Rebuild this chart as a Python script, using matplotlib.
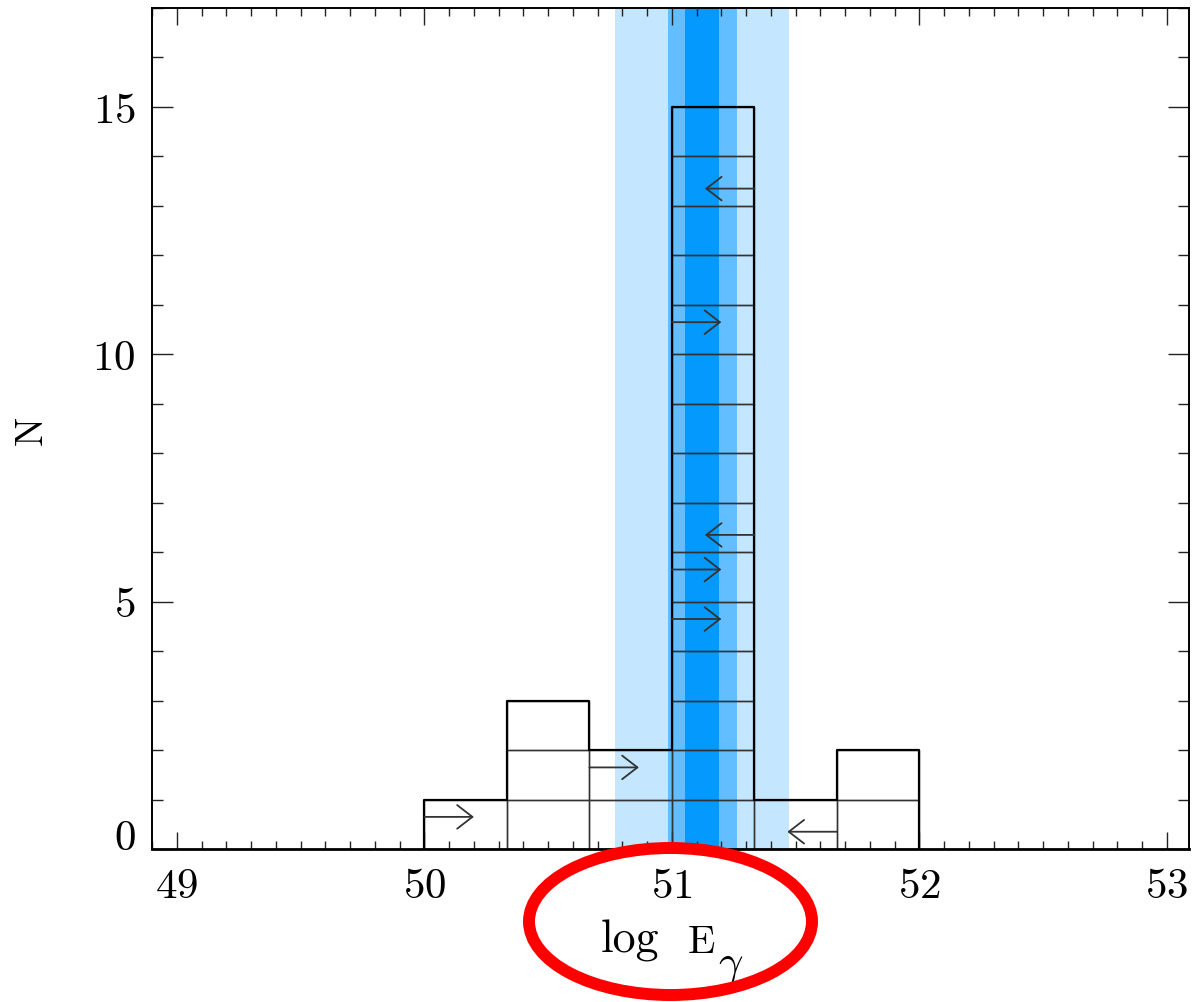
import matplotlib
matplotlib.use('Agg')
import matplotlib.pyplot as plt
from matplotlib.patches import Rectangle, Ellipse
from matplotlib.ticker import MultipleLocator

plt.rcParams['font.family'] = ['cmr10', 'DejaVu Serif']
plt.rcParams['mathtext.fontset'] = 'cm'
plt.rcParams['axes.formatter.use_mathtext'] = True

# histogram of log E_gamma, bins of width 1/3 dex
bin_left = [50.0, 50.0 + 1/3, 50.0 + 2/3, 51.0, 51.0 + 1/3, 51.0 + 2/3]
bin_width = 1/3
counts = [1, 3, 2, 15, 1, 2]
# limits drawn inside boxes: (bin index, box index, direction) +1 = lower limit, -1 = upper limit
limits = [(0, 0, 1), (2, 1, 1), (3, 13, -1), (3, 10, 1), (3, 6, -1),
          (3, 5, 1), (3, 4, 1), (4, 0, -1)]
# shaded ranges: (lo, hi) for outer, middle, inner
band_outer = (50.772, 51.473)
band_mid = (50.984, 51.262)
band_inner = (51.055, 51.19)

W, H = 1195, 1003
fig = plt.figure(figsize=(W / 100, H / 100), dpi=100)
ax = fig.add_axes([0.1274, 0.1525, 0.8676, 0.8385])

ax.axvspan(*band_outer, color='#c4e6fe', lw=0, zorder=0)
ax.axvspan(*band_mid, color='#62beff', lw=0, zorder=0)
ax.axvspan(*band_inner, color='#0399fd', lw=0, zorder=0)

# one box per object
for x0, n in zip(bin_left, counts):
    for k in range(n):
        ax.add_patch(Rectangle((x0, k), bin_width, 1, fill=False,
                               ec='#333333', lw=1.0, zorder=2))

# outer outline of the histogram
xs, ys = [bin_left[0]], [0]
for x0, n in zip(bin_left, counts):
    xs += [x0, x0 + bin_width]
    ys += [n, n]
xs.append(bin_left[-1] + bin_width)
ys.append(0)
ax.plot(xs, ys, color='black', lw=1.6, zorder=3)

alen = 0.2
for b, k, d in limits:
    if d > 0:
        x0 = bin_left[b]
        y = k + 0.65
    else:
        x0 = bin_left[b] + bin_width
        y = k + 0.35
    ax.annotate('', xy=(x0 + d * alen, y), xytext=(x0, y),
                arrowprops=dict(arrowstyle='->,head_length=1.1,head_width=0.85',
                                color='#333333', lw=1.3, shrinkA=0, shrinkB=0),
                zorder=4)

ax.set_xlim(48.9, 53.09)
ax.set_ylim(0, 17)
ax.xaxis.set_major_locator(MultipleLocator(1))
ax.xaxis.set_minor_locator(MultipleLocator(0.1))
ax.yaxis.set_major_locator(MultipleLocator(5))
ax.yaxis.set_minor_locator(MultipleLocator(1))
ax.tick_params(which='both', direction='in', top=True, right=True,
               width=1.0, color='#222222', labelsize=31)
ax.tick_params(axis='x', which='major', length=12, pad=13)
ax.tick_params(axis='x', which='minor', length=6)
ax.tick_params(axis='y', which='major', length=15, pad=12)
ax.tick_params(axis='y', which='minor', length=8)
for s in ax.spines.values():
    s.set_linewidth(1.4)
ax.spines['bottom'].set_linewidth(2.0)
# keep the zero label sitting on the x axis
ax.yaxis.get_major_ticks()[1].label1.set_va('baseline')

# axis titles
fig.text(32 / W, 1 - 430 / H, 'N', fontsize=28, rotation=90, ha='center', va='center')
fig.text(630 / W, 1 - 953 / H, 'log', fontsize=33, ha='center', va='baseline')
fig.text(688 / W, 1 - 953 / H, 'E', fontsize=29, ha='left', va='baseline')
fig.text(718 / W, 1 - 975 / H, r'$\gamma$', fontsize=31, ha='left', va='baseline')

fig.add_artist(Ellipse((670.5 / W, 1 - 922.5 / H), 283 / W, 147 / H,
                       transform=fig.transFigure, fill=False, ec='#ff0000',
                       lw=8.6, clip_on=False, zorder=10))

fig.savefig('out.png', dpi=100)
